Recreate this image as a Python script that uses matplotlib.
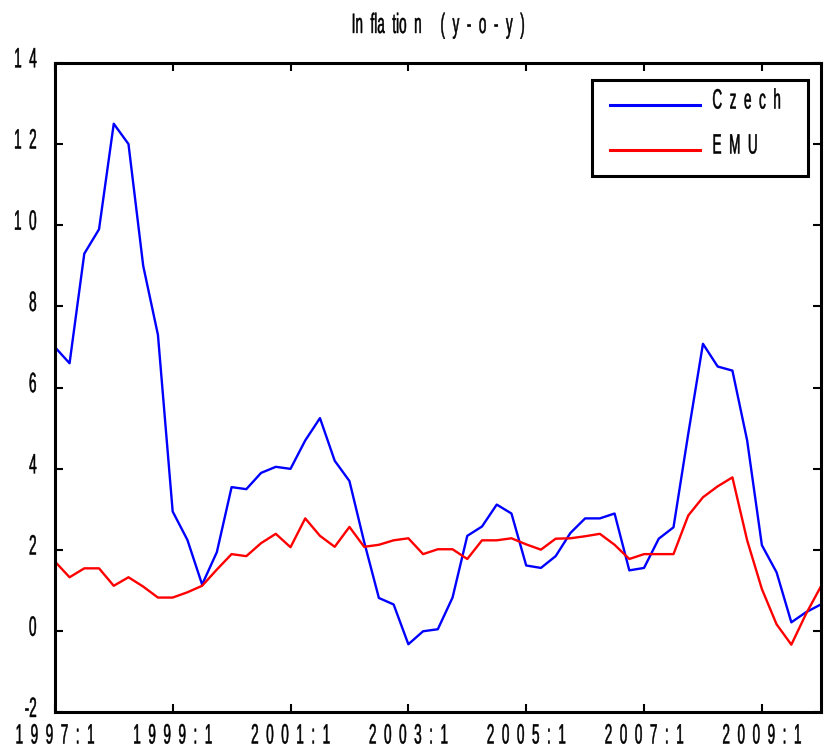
#%% Import modules
import numpy as np
import matplotlib
matplotlib.use('Agg')
import matplotlib.pyplot as plt
from matplotlib.patches import Rectangle
from matplotlib.patheffects import AbstractPathEffect
from matplotlib.transforms import Affine2D

#%% Data (quarterly, 1997:1 - 2010:1)
czech = [7.0, 6.6, 9.3, 9.9, 12.5, 12.0, 9.0, 7.3, 2.95, 2.25, 1.15, 1.95, 3.55,
         3.5, 3.9, 4.05, 4.0, 4.7, 5.25, 4.2, 3.7, 2.2, 0.82, 0.66, -0.32, 0.0,
         0.05, 0.83, 2.35, 2.58, 3.12, 2.9, 1.62, 1.56, 1.85, 2.42, 2.78, 2.78,
         2.9, 1.5, 1.56, 2.28, 2.56, 4.86, 7.08, 6.52, 6.42, 4.7, 2.12, 1.45,
         0.22, 0.47, 0.66]
emu = [1.72, 1.33, 1.55, 1.55, 1.12, 1.33, 1.1, 0.83, 0.83, 0.96, 1.12, 1.52,
       1.9, 1.85, 2.17, 2.4, 2.07, 2.78, 2.35, 2.08, 2.57, 2.08, 2.13, 2.24,
       2.29, 1.9, 2.02, 2.02, 1.78, 2.24, 2.24, 2.29, 2.14, 2.01, 2.28, 2.29,
       2.34, 2.4, 2.13, 1.78, 1.9, 1.9, 1.9, 2.85, 3.3, 3.57, 3.79, 2.24, 1.04,
       0.17, -0.33, 0.43, 1.1]

xtick_labels = ['1997:1', '1999:1', '2001:1', '2003:1', '2005:1', '2007:1', '2009:1']
ytick_values = [-2, 0, 2, 4, 6, 8, 10, 12, 14]
series_names = ['Czech', 'EMU']
title = 'In  fla  tio  n     (  y  -  o  -  y  )'

#%% Tall, narrow text (the original uses a condensed font)
class Stretch(AbstractPathEffect):
    def __init__(self, sx=0.75, sy=1.55, anchor='center', dy=0):
        super().__init__()
        self.sx = sx
        self.sy = sy
        self.anchor = anchor
        self.dy = dy

    def draw_path(self, renderer, gc, tpath, affine, rgbFace=None):
        ext = tpath.get_extents()
        if self.anchor == 'left':
            x0 = ext.x0
        elif self.anchor == 'right':
            x0 = ext.x1
        else:
            x0 = (ext.x0 + ext.x1) / 2
        t = (Affine2D().translate(-x0, 0).scale(self.sx, self.sy).translate(x0, 0)
             + affine + Affine2D().translate(0, self.dy))
        gc0 = renderer.new_gc()
        gc0.copy_properties(gc)
        gc0.set_linewidth(0.35)
        gc0.set_foreground(rgbFace if rgbFace is not None else 'black')
        renderer.draw_path(gc0, tpath, t, rgbFace)
        gc0.restore()

def Spaced(s):
    return '  '.join(s)

plt.rcParams['font.family'] = ['Liberation Sans', 'DejaVu Sans']
fs = 13

#%% Plot
quarters = np.arange(len(czech))

fig = plt.figure(figsize=(8.27, 7.48), dpi=100)
ax = fig.add_axes([0.0663, 0.0475, 0.9262, 0.8685])

ax.plot(quarters, czech, color='#0000ff', lw=1.7, label=Spaced(series_names[0]))
ax.plot(quarters, emu, color='#ff0000', lw=1.7, label=Spaced(series_names[1]))

ax.set_xlim(0, 52)
ax.set_ylim(-2, 14)
ax.set_xticks(np.arange(0, 49, 8))
ax.set_xticklabels([Spaced(t) for t in xtick_labels], fontsize=fs)
ax.set_yticks(ytick_values)
ax.set_yticklabels([Spaced(str(v)) if v >= 0 else str(v) for v in ytick_values], fontsize=fs)
ax.tick_params(which='both', direction='in', top=True, right=True, length=6, width=1.5)
ax.tick_params(axis='x', pad=13)
ax.tick_params(axis='y', pad=13)
for spine in ax.spines.values():
    spine.set_linewidth(2.2)

for lbl in ax.get_xticklabels():
    lbl.set_path_effects([Stretch(anchor='center')])
for lbl in ax.get_yticklabels():
    lbl.set_path_effects([Stretch(anchor='right', dy=2)])

ttl = ax.set_title(title, fontsize=fs, pad=21.5)
ttl.set_path_effects([Stretch(anchor='center')])

leg = ax.legend(loc='upper left', bbox_to_anchor=(0.7245, 0.945), fontsize=fs,
                frameon=False, borderpad=0, borderaxespad=0, handlelength=5.0,
                handletextpad=0.67, labelspacing=1.55)
for txt in leg.get_texts():
    txt.set_path_effects([Stretch(anchor='left', dy=3)])
for line in leg.get_lines():
    line.set_linewidth(2.2)
ax.add_patch(Rectangle((0.701, 0.826), 0.282, 0.148, transform=ax.transAxes,
                       fill=False, edgecolor='black', lw=2.2, zorder=5))

fig.savefig('out.png', dpi=100)
